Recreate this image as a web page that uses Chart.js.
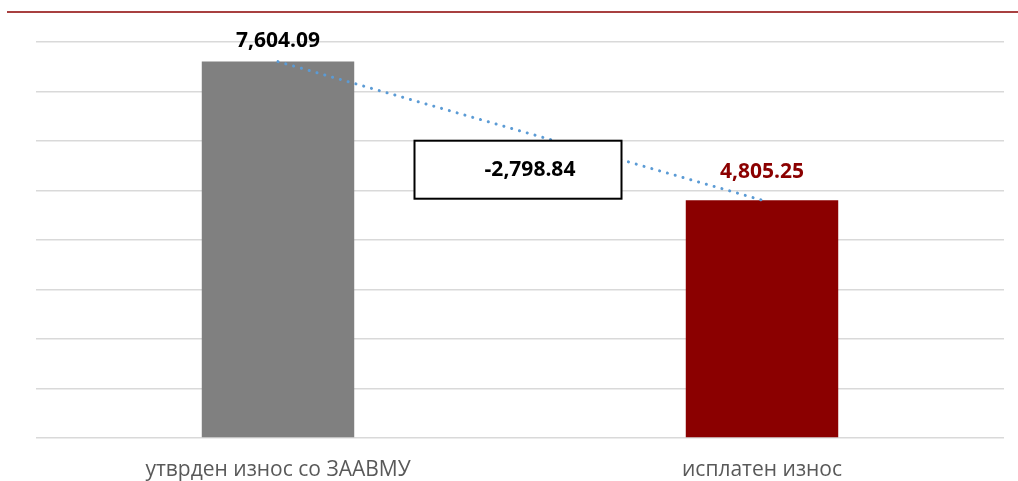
<!DOCTYPE html>
<html>
<head>
<meta charset="utf-8">
<script src="https://cdn.jsdelivr.net/npm/chart.js@4.4.0/dist/chart.umd.min.js"></script>
<style>
  html, body { margin: 0; padding: 0; background: #fff; }
  #wrap { width: 1018px; height: 481px; position: relative; }
</style>
</head>
<body>
<div id="wrap"><canvas id="chart"></canvas></div>
<script>
'use strict';

const categories = ['утврден износ со ЗААВМУ', 'исплатен износ'];
const amounts = [7604.09, 4805.25];
const barColors = ['#808080', '#8b0000'];
const labelColors = ['#000000', '#8b0000'];
const yTicks = { min: 0, max: 8000, step: 1000 };

function fmt(v) {
    return v.toLocaleString('en-US', { minimumFractionDigits: 2, maximumFractionDigits: 2 });
}

const difference = amounts[1] - amounts[0];

// red rule along the top + value labels + difference box
const decorations = {
    id: 'decorations',
    afterDraw(chart) {
        const ctx = chart.ctx;
        const xs = chart.scales.x;
        const ys = chart.scales.y;
        ctx.save();

        ctx.strokeStyle = '#8b0000';
        ctx.lineWidth = 1.5;
        ctx.beginPath();
        ctx.moveTo(7, 12);
        ctx.lineTo(chart.width, 12);
        ctx.stroke();

        ctx.font = 'bold 21px "Open Sans"';
        ctx.textAlign = 'center';
        ctx.textBaseline = 'middle';
        const offsets = [21, 28];
        amounts.forEach((v, i) => {
            ctx.fillStyle = labelColors[i];
            ctx.fillText(fmt(v), xs.getPixelForValue(i), ys.getPixelForValue(v) - offsets[i]);
        });

        const cx = (xs.getPixelForValue(0) + xs.getPixelForValue(1)) / 2 - 2;
        const cy = ys.getPixelForValue(5420);
        const w = 207, h = 58;
        ctx.fillStyle = '#fff';
        ctx.fillRect(cx - w / 2, cy - h / 2, w, h);
        ctx.strokeStyle = '#000';
        ctx.lineWidth = 2;
        ctx.strokeRect(cx - w / 2, cy - h / 2, w, h);
        ctx.fillStyle = '#000';
        ctx.fillText(fmt(difference), cx + 12, cy);

        ctx.restore();
    }
};

new Chart(document.getElementById('chart'), {
    data: {
        labels: categories,
        datasets: [
            {
                type: 'line',
                data: amounts,
                borderColor: '#5b9bd5',
                borderWidth: 3,
                borderDash: [0.1, 8],
                borderCapStyle: 'round',
                pointRadius: 0,
                fill: false,
                order: 0
            },
            {
                type: 'bar',
                data: amounts,
                backgroundColor: barColors,
                barPercentage: 0.63,
                categoryPercentage: 0.5,
                order: 1
            }
        ]
    },
    options: {
        responsive: true,
        maintainAspectRatio: false,
        animation: false,
        layout: { padding: { left: 36, right: 14, top: 42, bottom: 0 } },
        plugins: {
            legend: { display: false },
            tooltip: { enabled: false }
        },
        scales: {
            x: {
                grid: { display: false, drawTicks: false },
                border: { display: false },
                ticks: {
                    color: '#595959',
                    font: { family: 'Open Sans', size: 21 },
                    padding: 19,
                    maxRotation: 0
                },
                afterFit(scale) { scale.height = 43; }
            },
            y: {
                min: yTicks.min,
                max: yTicks.max,
                ticks: { display: false, stepSize: yTicks.step },
                grid: { color: '#d9d9d9', lineWidth: 1.5, drawTicks: false },
                border: { display: false }
            }
        }
    },
    plugins: [decorations]
});
</script>
</body>
</html>
